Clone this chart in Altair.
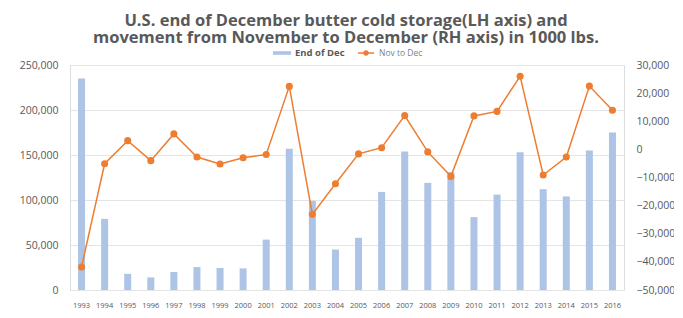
import altair as alt
import pandas as pd

years = [str(y) for y in range(1993, 2017)]
end_of_dec = [235000, 79000, 18000, 14000, 20000, 25500, 24500, 24000, 56000, 157000,
              99000, 45000, 58000, 109000, 154000, 119000, 131000, 81000, 106000, 153000,
              112000, 104000, 155000, 175000]
nov_to_dec = [-41800, -5100, 3100, -4000, 5500, -2700, -5200, -3000, -1800, 22400,
              -23100, -12200, -1600, 600, 12000, -900, -9600, 11900, 13500, 26000,
              -9100, -2700, 22500, 13900]

df = pd.DataFrame({
    "year": years,
    "end": end_of_dec,
    "chg": nov_to_dec,
    "s1": "End of Dec",
    "s2": "Nov to Dec",
})

BLUE = "#AEC4E6"
ORANGE = "#ED7D31"
GREY = "#595959"
FONT = "Open Sans"

xenc = alt.X("year:O", title=None, sort=years,
             scale=alt.Scale(paddingInner=0, paddingOuter=0),
             axis=alt.Axis(labelAngle=0, labelFontSize=7.5, labelColor=GREY, labelFont=FONT,
                           domain=False, ticks=False, labelPadding=11))

bars = alt.Chart(df).mark_bar(size=7).encode(
    x=xenc,
    y=alt.Y("end:Q", title=None,
            scale=alt.Scale(domain=[0, 250000], nice=False),
            axis=alt.Axis(values=[0, 50000, 100000, 150000, 200000, 250000], format=",d",
                          grid=True, gridColor="#E4E4E4", domain=False, ticks=False,
                          labelFontSize=10.5, labelColor=GREY, labelFont=FONT, labelPadding=12)),
    fill=alt.Fill("s1:N", scale=alt.Scale(range=[BLUE]),
                  legend=alt.Legend(orient="none", legendX=203, legendY=-21, title=None,
                                    symbolType="M-1,-0.2H1V0.2H-1Z", symbolSize=324,
                                    labelFontSize=9.5, labelFontWeight="bold", labelColor=GREY,
                                    labelFont=FONT, symbolStrokeWidth=0)),
)

line = alt.Chart(df).mark_line(strokeWidth=1.5, point=alt.OverlayMarkDef(filled=True, size=50)).encode(
    x=xenc,
    y=alt.Y("chg:Q", title=None,
            scale=alt.Scale(domain=[-50000, 30000], nice=False),
            axis=alt.Axis(orient="right", values=list(range(-50000, 30001, 10000)), format=",d",
                          grid=False, domain=False, ticks=False,
                          labelFontSize=10.5, labelColor=GREY, labelFont=FONT, labelPadding=12)),
    color=alt.Color("s2:N", scale=alt.Scale(range=[ORANGE]),
                    legend=alt.Legend(orient="none", legendX=287, legendY=-21, title=None,
                                      symbolType="M-1,0H1M0.25,0A0.25,0.25,0,1,1,-0.25,0A0.25,0.25,0,1,1,0.25,0",
                                      symbolSize=256, symbolFillColor=ORANGE,
                                      symbolStrokeColor=ORANGE, symbolStrokeWidth=1.3,
                                      labelFontSize=8.5, labelColor="#7F7F7F", labelFont=FONT)),
)

chart = alt.layer(bars, line).resolve_scale(y="independent").properties(
    width=554, height=225,
    autosize=alt.AutoSizeParams(type="none"),
    padding={"left": 62, "top": 57, "right": 50, "bottom": 20},
    title=alt.Title(
        text="U.S. end of December butter cold storage(LH axis) and",
        subtitle="movement from November to December (RH axis) in 1000 lbs.",
        fontSize=16.5, font=FONT, fontWeight="bold", color=GREY, anchor="middle",
        subtitleFontSize=16.5, subtitleFont=FONT, subtitleFontWeight="bold",
        subtitleColor=GREY, subtitlePadding=0,
        offset=-2, dx=-1, frame="group"),
).configure_view(stroke=None).configure(background="white")

chart.save("out.html", embed_options={"renderer": "svg", "actions": False})
